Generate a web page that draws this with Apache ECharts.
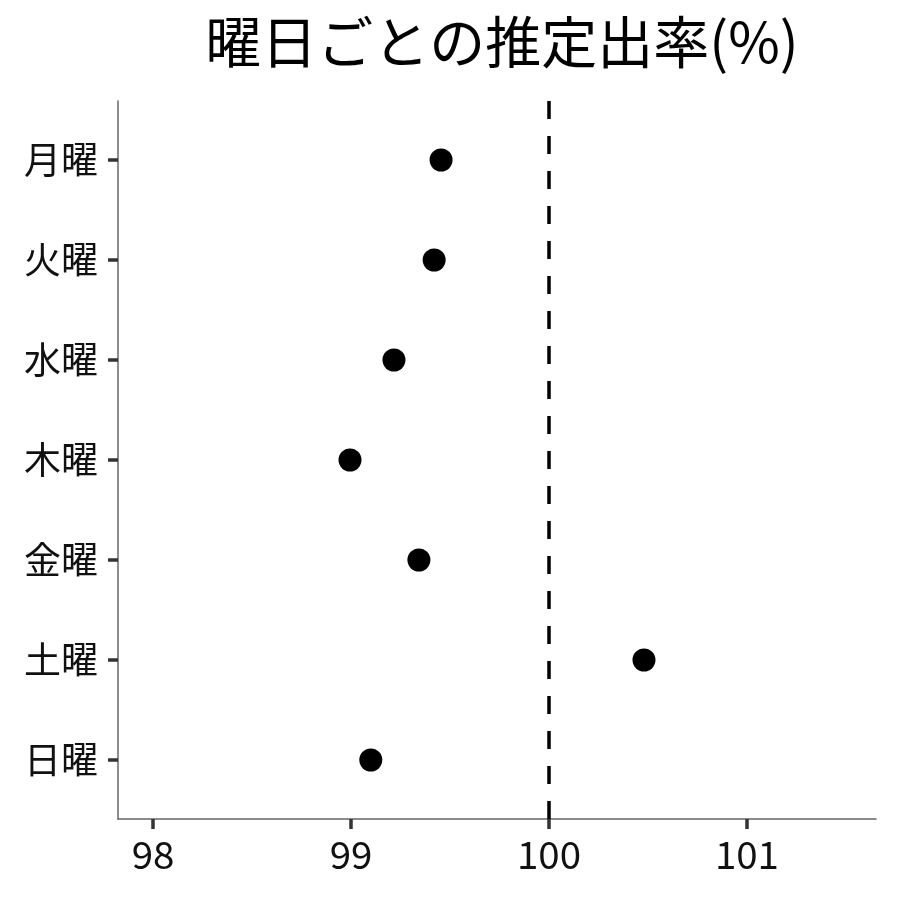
<!DOCTYPE html>
<html>
<head>
<meta charset="utf-8">
<script src="https://cdn.jsdelivr.net/npm/echarts@6/dist/echarts.min.js"></script>
<style>
  html, body { margin: 0; padding: 0; background: #fff; }
  #main { width: 900px; height: 900px; }
</style>
</head>
<body>
<div id="main"></div>
<script>
// 曜日 (上から順に)
var days = ['月曜', '火曜', '水曜', '木曜', '金曜', '土曜', '日曜'];
// 推定出率 (%)
var rates = [99.455, 99.42, 99.217, 98.995, 99.343, 100.48, 99.1];
var xTicks = [98, 99, 100, 101];
var refLine = 100;

var font = '"Noto Sans CJK JP", "Noto Sans", sans-serif';
var chart = echarts.init(document.getElementById('main'));

var points = [];
for (var i = 0; i < days.length; i++) {
  points.push([rates[i], i + 1]);
}
var yPos = [];
for (var j = 0; j < days.length; j++) yPos.push(j + 1);

var option = {
  backgroundColor: '#fff',
  animation: false,
  title: {
    text: '曜日ごとの推定出率(%)',
    left: 497,
    textAlign: 'center',
    top: 9,
    textStyle: { fontFamily: font, fontSize: 56, fontWeight: 'normal', color: '#000' }
  },
  grid: { left: 118, right: 24, top: 101, bottom: 81, containLabel: false },
  xAxis: {
    type: 'value',
    min: 97.823,
    max: 101.652,
    axisLine: { show: true, lineStyle: { color: '#666', width: 1.5 } },
    axisTick: { show: true, customValues: xTicks, length: 10, lineStyle: { color: '#333', width: 3.5 } },
    axisLabel: {
      customValues: xTicks,
      margin: 16,
      fontFamily: font, fontSize: 38.5, color: '#111'
    },
    splitLine: { show: false }
  },
  yAxis: {
    type: 'value',
    inverse: true,
    min: 0.41,
    max: 7.59,
    axisLine: { show: true, lineStyle: { color: '#666', width: 1.5 } },
    axisTick: { show: true, customValues: yPos, length: 10, lineStyle: { color: '#333', width: 3.5 } },
    axisLabel: {
      customValues: yPos,
      margin: 20,
      fontFamily: font, fontSize: 37, color: '#111',
      formatter: function (v) { return days[Math.round(v) - 1] || ''; }
    },
    splitLine: { show: false }
  },
  series: [{
    type: 'scatter',
    data: points,
    symbol: 'circle',
    symbolSize: 23,
    itemStyle: { color: '#000', opacity: 1 },
    markLine: {
      silent: true,
      symbol: 'none',
      label: { show: false },
      lineStyle: { color: '#000', width: 3.5, type: [18, 17] },
      data: [{ xAxis: refLine }]
    }
  }]
};
chart.setOption(option);
</script>
</body>
</html>
